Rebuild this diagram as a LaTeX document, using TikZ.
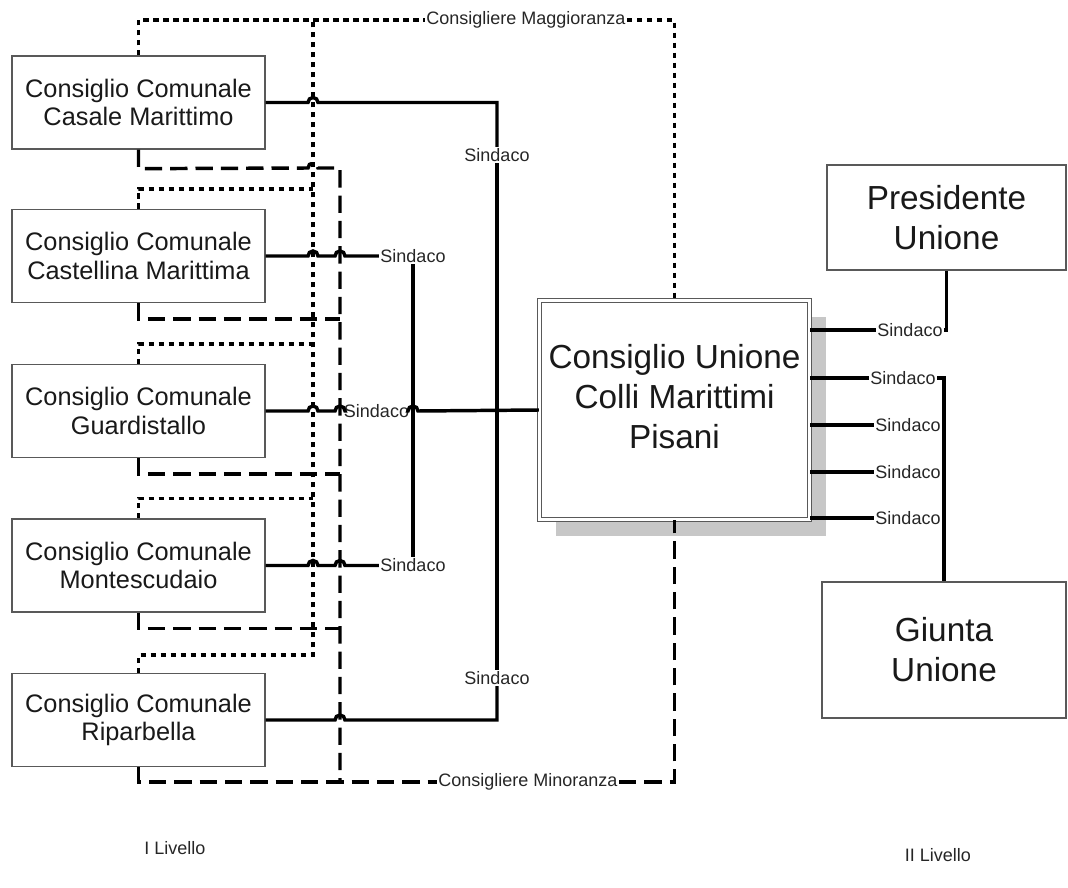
\documentclass[tikz,border=0pt]{standalone}
\usepackage{fontspec}
\setmainfont{Liberation Sans}
\usetikzlibrary{calc, shadows}

\tikzset{
	comune/.style = {draw = black!65, line width = 1pt, text = black!90, align = center,
		minimum width = 189.75pt, minimum height = 69.75pt, inner sep = 0pt,
		font = \fontsize{19}{21.5}\selectfont},
	organo/.style = {draw = black!65, line width = 1pt, text = black!90, align = center,
		inner sep = 0pt, fill = white, font = \fontsize{25}{30}\selectfont},
	etichetta/.style = {text = black!85, inner sep = 1pt, font = \fontsize{13.5}{16}\selectfont},
	sindaco/.style = {line width = 2.6pt},
	maggioranza/.style = {line width = 2.6pt, dash pattern = on 4pt off 3.5pt},
	minoranza/.style = {line width = 2.6pt, dash pattern = on 13pt off 6pt},
	hop/.style = {insert path = {-- ($(#1) + (-5, 0)$) arc [start angle = 180, end angle = 0, radius = 3.75pt]}}
}

\begin{document}
\begin{tikzpicture}[x = 0.75pt, y = -0.75pt]

	\useasboundingbox (0, 0) rectangle (1068, 888);

	% Town councils

	\node [comune] (Casale) at (138.5, 102.5) {Consiglio Comunale\\Casale Marittimo};
	\node [comune] (Castellina) at (138.5, 256) {Consiglio Comunale\\Castellina Marittima};
	\node [comune] (Guardistallo) at (138.5, 411) {Consiglio Comunale\\Guardistallo};
	\node [comune] (Montescudaio) at (138.5, 565.5) {Consiglio Comunale\\Montescudaio};
	\node [comune] (Riparbella) at (138.5, 720) {Consiglio Comunale\\Riparbella};

	% Union bodies

	\node [organo, double, line width = 0.8pt, double distance = 2.4pt,
		minimum width = 202.5pt, minimum height = 164.25pt, text depth = 21pt,
		drop shadow = {opacity = 1, fill = black!22, shadow xshift = 12pt, shadow yshift = -12pt}]
		(Unione) at (674.5, 410) {Consiglio Unione\\Colli Marittimi\\Pisani};
	\node [organo, minimum width = 179.25pt, minimum height = 78.75pt] (Presidente) at (946.5, 217.5) {Presidente\\Unione};
	\node [organo, minimum width = 183pt, minimum height = 102pt] (Giunta) at (944, 650) {Giunta\\Unione};

	% Buses

	\coordinate (MaggBus) at (313, 20);
	\coordinate (MinBus) at (340, 168);
	\coordinate (SindBus) at (413, 411);

	% Labels

	\node [etichetta] (sMagg) at (526, 20) {Consigliere Maggioranza};
	\node [etichetta] (sMin) at (528, 782) {Consigliere Minoranza};
	\node [etichetta] (sCasale) at (497, 155) {Sindaco};
	\node [etichetta] (sRiparbella) at (497, 678) {Sindaco};
	\node [etichetta] (sCastellina) at (Castellina.east -| SindBus) {Sindaco};
	\node [etichetta, inner xsep = 0pt] (sGuardistallo) at (376.5, 411) {Sindaco};
	\node [etichetta] (sMontescudaio) at (Montescudaio.east -| SindBus) {Sindaco};

	\node [etichetta] (sPresidente) at (910, 330) {Sindaco};
	\node [etichetta] (sGiunta1) at (903, 378) {Sindaco};
	\node [etichetta] (sGiunta2) at (908, 425) {Sindaco};
	\node [etichetta] (sGiunta3) at (908, 472) {Sindaco};
	\node [etichetta] (sGiunta4) at (908, 518) {Sindaco};

	\node [etichetta] (livello1) at (175, 848) {I Livello};
	\node [etichetta] (livello2) at (938, 855) {II Livello};

	% Majority councillors

	\draw [maggioranza] (Casale.north) |- (sMagg.west);
	\draw [maggioranza] (sMagg.east) -| (Unione.north);
	\draw [maggioranza] (Riparbella.north) -- ++(0, -18) -| (MaggBus);
	\foreach \b in {Castellina, Guardistallo, Montescudaio}
		\draw [maggioranza] (\b.north) -- ++(0, -20) -- ++(174.5, 0);

	% Minority councillors

	\draw [minoranza] (Casale.south) -- ++(0, 19) [hop = {MaggBus |- MinBus}] -- (MinBus) -- (MinBus |- sMin.west);
	\draw [minoranza] (Riparbella.south) |- (sMin.west);
	\draw [minoranza] (sMin.east) -| (Unione.south);
	\foreach \b in {Castellina, Guardistallo, Montescudaio}
		\draw [minoranza] (\b.south) -- ++(0, 16) -- ++(201.5, 0);

	% Mayors, first level

	\draw [sindaco] (Casale.east) [hop = {MaggBus |- Casale.east}] -| (sCasale.north);
	\draw [sindaco] (sCasale.south) -- (sRiparbella.north);
	\draw [sindaco] (Riparbella.east) [hop = {MinBus |- Riparbella.east}] -| (sRiparbella.south);

	\draw [sindaco] (Castellina.east) [hop = {MaggBus |- Castellina.east}, hop = {MinBus |- Castellina.east}] -- (sCastellina.west);
	\draw [sindaco] (Montescudaio.east) [hop = {MaggBus |- Montescudaio.east}, hop = {MinBus |- Montescudaio.east}] -- (sMontescudaio.west);
	\draw [sindaco] (sCastellina.south) -- (sMontescudaio.north);

	\draw [sindaco] (Guardistallo.east) [hop = {MaggBus |- Guardistallo.east}, hop = {MinBus |- Guardistallo.east}] -- (sGuardistallo.west);
	\draw [sindaco] (sGuardistallo.east) [hop = {SindBus}] -- (Unione.west);

	% Mayors, second level

	\draw [sindaco] (Unione.east |- sPresidente.west) -- (sPresidente.west);
	\draw [sindaco] (sPresidente.east) -| (Presidente.south);
	\foreach \s in {sGiunta1, sGiunta2, sGiunta3, sGiunta4}
		\draw [sindaco] (Unione.east |- \s.west) -- (\s.west);
	\draw [sindaco] (sGiunta1.east) -| (Giunta.north);
	\foreach \s in {sGiunta2, sGiunta3, sGiunta4}
		\draw [sindaco] (\s.east) -- (\s.east -| Giunta.north);

\end{tikzpicture}
\end{document}
